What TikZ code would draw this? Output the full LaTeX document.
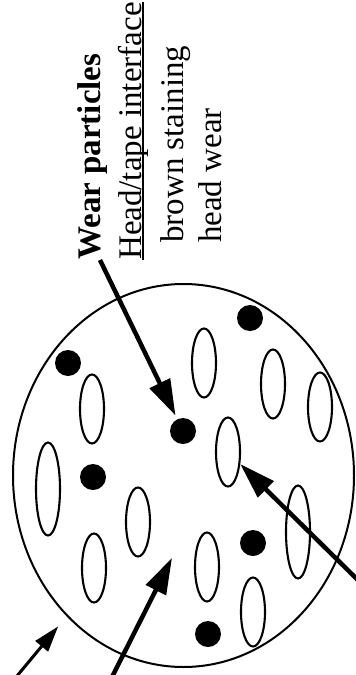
\documentclass[tikz,border=0pt]{standalone}
\usepackage{fontspec}
\setmainfont{Liberation Serif}
\usetikzlibrary{arrows.meta, shapes.geometric, calc}

\begin{document}
\begin{tikzpicture}[
    x=1pt, y=-1pt,
    every node/.style={font=\fontsize{33}{40}\selectfont},
    sidetext/.style={rotate=90, anchor=base west, inner sep=0pt},
    tape/.style={
      ellipse, draw, line width=2pt, inner sep=0pt,
      minimum width=341pt, minimum height=383pt
    },
    grain/.style={
      ellipse, draw, line width=2.1pt, inner sep=0pt,
      minimum width=24pt, minimum height=69pt
    },
    longgrain/.style={grain, minimum height=93pt},
    spot/.style={circle, fill, minimum size=26pt, inner sep=0pt},
    pointer/.style={-{Triangle[length=36pt, width=22pt]}, line width=4.5pt},
    thinpointer/.style={-{Triangle[length=26pt, width=16pt]}, line width=3pt}
  ]
  \useasboundingbox (0,0) rectangle (356,675);
  \clip (0,0) rectangle (356,675);

  % ===== labels =====
  \node[sidetext, font=\fontsize{33}{40}\selectfont\bfseries] (wear) at (100,260) {Wear particles};
  \node[sidetext] (iface) at (141,260) {Head/tape interface};
  \node[sidetext] (stain) at (183,243) {brown staining};
  \node[sidetext] (hwear) at (221,243) {head wear};
  \draw[line width=1.6pt] ($(iface.base west)+(2,0)$) -- ($(iface.base east)+(2,0)$);

  % ===== tape section =====
  \node[tape] (tape) at (183.5,475.5) {};

  \node[grain] (grain1) at (204,363) {};
  \node[grain] (grain2) at (273,384) {};
  \node[grain] (grain3) at (320,407) {};
  \node[grain] (grain4) at (92,409) {};
  \node[grain] (grain5) at (228,452) {};
  \node[longgrain] (grain6) at (48,489) {};
  \node[grain] (grain7) at (138,522) {};
  \node[longgrain] (grain8) at (298,532) {};
  \node[grain] (grain9) at (94,568) {};
  \node[grain] (grain10) at (207,567) {};
  \node[grain] (grain11) at (253,612) {};

  \node[spot] (spot1) at (250,318) {};
  \node[spot] (spot2) at (183,431) {};
  \node[spot] (spot3) at (68,363) {};
  \node[spot] (spot4) at (93,477) {};
  \node[spot] (spot5) at (253,543) {};
  \node[spot] (spot6) at (208,634) {};

  % ===== pointers =====
  \coordinate (tailB) at (109.5,682);
  \coordinate (binder) at (172,558);
  \coordinate (tailC) at (12,682);
  \coordinate (tailD) at (364,586);

  \draw[pointer, shorten >=4pt] (wear.base west) -- (spot2);
  \draw[pointer] (tailB) -- (binder);
  \draw[thinpointer, shorten >=13pt] (tailC) -- (tape);
  \draw[pointer] (tailD) -- (grain5);

\end{tikzpicture}
\end{document}
